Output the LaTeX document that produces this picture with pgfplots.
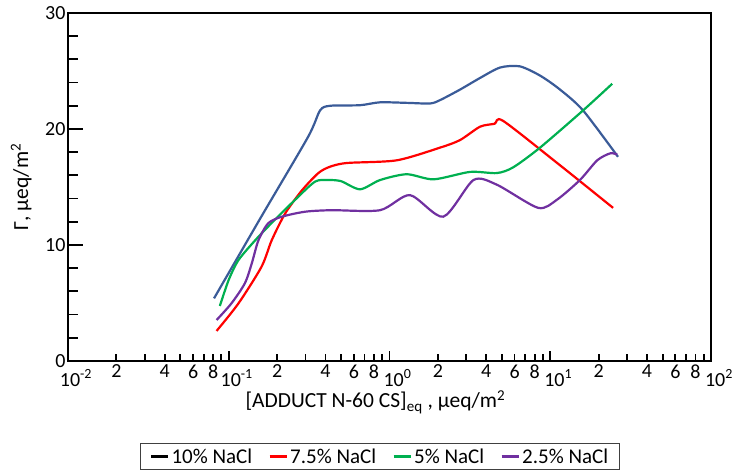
\documentclass[border=0pt]{standalone}
\usepackage{fontspec}
\setmainfont{Carlito}
\usepackage{pgfplots}
\pgfplotsset{compat=1.18}
\definecolor{cblue}{HTML}{3A5B98}
\definecolor{cred}{HTML}{FF0000}
\definecolor{cgreen}{HTML}{00B050}
\definecolor{cpurple}{HTML}{7030A0}
\begin{document}
\begin{tikzpicture}
\begin{axis}[
  scale only axis, width=643pt, height=348pt,
  xmode=log, xmin=0.01, xmax=100, ymin=0, ymax=30,
  axis line style={line width=2.2pt, line cap=rect},
  tick pos=left, tick align=inside,
  every tick/.style={black, line width=1.8pt},
  major tick length=10pt, minor tick length=7pt,
  xtick={0.01,0.1,1,10,100},
  xticklabels={10\textsuperscript{-2},10\textsuperscript{-1},10\textsuperscript{0},10\textsuperscript{1},10\textsuperscript{2}},
  minor xtick={0.02,0.03,0.04,0.05,0.06,0.07,0.08,0.09,0.2,0.3,0.4,0.5,0.6,0.7,0.8,0.9,2,3,4,5,6,7,8,9,20,30,40,50,60,70,80,90},
  extra x ticks={0.02,0.04,0.06,0.08,0.2,0.4,0.6,0.8,2,4,6,8,20,40,60,80},
  extra x tick labels={2,4,6,8,2,4,6,8,2,4,6,8,2,4,6,8},
  extra x tick style={major tick length=7pt, xticklabel style={xshift=-8pt, yshift=5pt}},
  xticklabel style={xshift=8pt, yshift=-5pt},
  ytick={2,4,6,8,12,14,16,18,22,24,26,28}, yticklabels={},
  extra y ticks={0,10,20,30}, extra y tick labels={0,10,20,30},
  extra y tick style={major tick length=15pt},
  tick label style={font=\fontsize{20}{22}\selectfont},
  yticklabel style={xshift=1pt},
  xlabel={[ADDUCT N-60 CS]\textsubscript{eq} , µeq/m\textsuperscript{2}},
  ylabel={Γ, µeq/m\textsuperscript{2}},
  label style={font=\fontsize{21.5}{24}\selectfont},
  xlabel style={at={(axis description cs:0.478,-0.075)}, anchor=north},
  ylabel style={at={(axis description cs:-0.051,0.5)}, anchor=south},
  legend columns=4,
  legend style={at={(axis description cs:0.485,-0.236)}, anchor=north,
    draw=black!75, line width=1pt, font=\fontsize{21}{23}\selectfont,
    inner xsep=9pt, inner ysep=3pt,
    /tikz/every even column/.append style={column sep=14pt}},
  legend image code/.code={\draw[line width=3pt] (0pt,0pt) -- (17pt,0pt);},
]
\addplot[cblue, line width=2.2pt, smooth, tension=0.45, forget plot] coordinates {
(0.081,5.4) (0.158,12.35) (0.311,19.3) (0.37,21.6) (0.427,22.0) (0.656,22.05) (0.873,22.3) (1.3,22.25) (1.79,22.2) (2.07,22.5) (2.75,23.4) (3.66,24.4) (4.88,25.3) (6.47,25.4) (8.65,24.6) (11.5,23.4) (16.0,21.6) (26.4,17.6)
};
\addplot[cred, line width=2.2pt, smooth, tension=0.45, forget plot] coordinates {
(0.084,2.59) (0.115,4.97) (0.16,8.13) (0.185,10.4) (0.224,12.7) (0.285,14.7) (0.361,16.2) (0.427,16.75) (0.545,17.07) (1.11,17.3) (2.07,18.4) (2.75,19.05) (3.66,20.2) (4.5,20.45) (5.09,20.7) (11.2,17.0) (24.6,13.2)
};
\addplot[cgreen, line width=2.2pt, smooth, tension=0.45, forget plot] coordinates {
(0.088,4.74) (0.1,7.0) (0.115,8.7) (0.146,10.4) (0.185,11.9) (0.259,13.9) (0.344,15.46) (0.415,15.6) (0.5,15.5) (0.656,14.8) (0.874,15.6) (1.28,16.1) (1.88,15.66) (3.17,16.3) (4.65,16.2) (5.89,16.7) (8.65,18.4) (16.0,21.6) (24.3,23.9)
};
\addplot[cpurple, line width=2.2pt, smooth, tension=0.45, forget plot] coordinates {
(0.084,3.53) (0.104,4.97) (0.126,6.7) (0.139,8.4) (0.153,10.4) (0.176,11.87) (0.214,12.44) (0.299,12.87) (0.437,13.0) (0.874,13.0) (1.34,14.3) (2.16,12.44) (3.33,15.6) (4.65,15.2) (8.41,13.2) (11.0,13.9) (15.3,15.6) (19.6,17.3) (23.6,17.9) (26.1,17.8)
};
\addlegendimage{black}\addlegendentry{10\% NaCl}
\addlegendimage{cred}\addlegendentry{7.5\% NaCl}
\addlegendimage{cgreen}\addlegendentry{5\% NaCl}
\addlegendimage{cpurple}\addlegendentry{2.5\% NaCl}
\coordinate (bl) at (axis description cs:-0.10575,-0.31897);
\coordinate (tr) at (axis description cs:1.04355,1.03736);
\end{axis}
\pgfresetboundingbox
\path[use as bounding box] (bl) rectangle (tr);
\end{tikzpicture}
\end{document}
